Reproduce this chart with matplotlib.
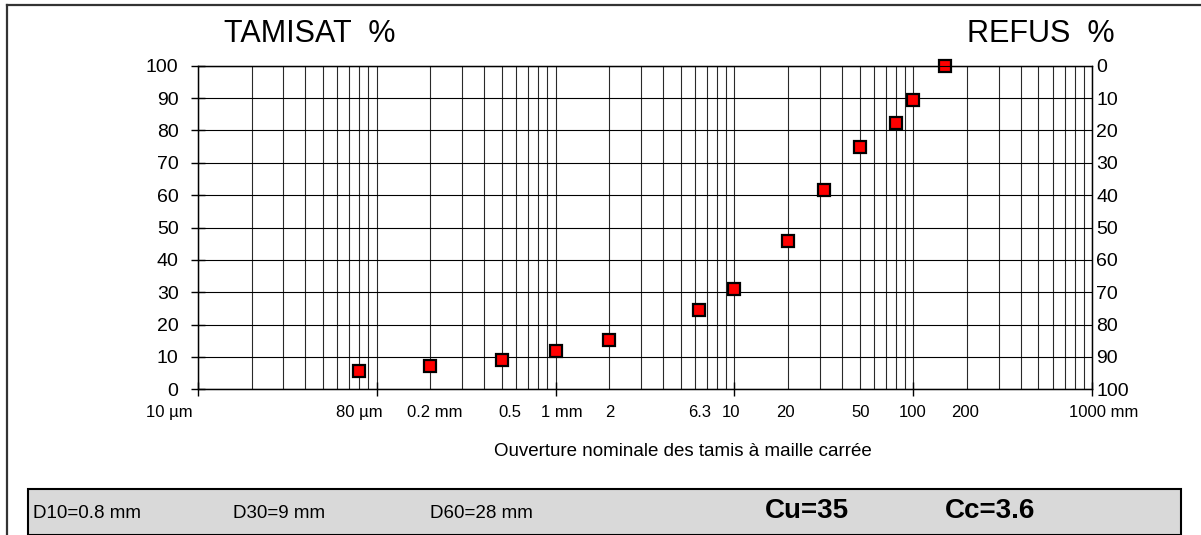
import numpy as np
import matplotlib
matplotlib.use("Agg")
import matplotlib.pyplot as plt
from matplotlib import transforms
from matplotlib.lines import Line2D
from matplotlib.patches import Rectangle
from matplotlib.ticker import LogLocator, NullFormatter

# ── style ─────────────────────────────────────────────────────────────────────
plt.rcParams.update({
    "font.family": "Liberation Sans",
    "font.size": 14,
})

# ── data ─────────────────────────────────────────────────────────────────────
SIEVE_MM = [0.08, 0.2, 0.5, 1, 2, 6.3, 10, 20, 31.5, 50, 80, 100, 150]
PASSING = [5.7, 7.2, 9.2, 11.9, 15.2, 24.6, 31.1, 45.9, 61.5, 74.8, 82.3, 89.3, 100]

Y_TICKS = list(range(0, 101, 10))
DECADES = [0.01, 0.1, 1, 10, 100, 1000]

XLAB_POS = [0.01, 0.08, 0.2, 0.5, 1, 2, 6.3, 10, 20, 50, 100, 200, 1000]
XLAB_TXT = ["10 µm", "80 µm", "0.2 mm", "0.5", "1 mm", "2", "6.3", "10",
            "20", "50", "100", "200", "1000 mm"]
XLAB_NUDGE = [-28, 0, 4, 8, 6, 0, 1, -3, -3, 1, -1, -2, 11]   # pixels

D_TEXT = ["D10=0.8 mm", "D30=9 mm", "D60=28 mm"]
COEF_TEXT = ["Cu=35", "Cc=3.6"]

W, H = 1201, 535


def fx(px):
    return px / W


def fy(py):
    return 1 - py / H


fig = plt.figure(figsize=(W / 100, H / 100), dpi=100)
fig.patch.set_facecolor("white")

# frame lines (top + left only)
fig.add_artist(Line2D([fx(7), 1], [fy(5), fy(5)], color="#333333", lw=1.6))
fig.add_artist(Line2D([fx(7), fx(7)], [fy(5), 0], color="#333333", lw=1.6))

# ── main axes ────────────────────────────────────────────────────────────────
x0, x1, y0, y1 = 197.7, 1092.3, 65.7, 389.3
ax = fig.add_axes([fx(x0), fy(y1), fx(x1 - x0), (y1 - y0) / H])
ax.set_xscale("log")
ax.set_xlim(0.01, 1000)
ax.set_ylim(0, 100)

ax.set_xticks(DECADES)
ax.xaxis.set_major_formatter(NullFormatter())
ax.xaxis.set_minor_locator(LogLocator(base=10, subs=np.arange(2, 10), numticks=30))
ax.xaxis.set_minor_formatter(NullFormatter())
ax.tick_params(axis="x", which="major", direction="inout", length=10, width=1, color="black")
ax.tick_params(axis="x", which="minor", length=0)

ax.set_yticks(Y_TICKS)
ax.tick_params(axis="y", direction="inout", length=9.5, width=1, pad=9, labelsize=14)

ax.grid(True, axis="x", which="both", color="#2a2a2a", lw=0.8)
ax.grid(True, axis="y", which="major", color="black", lw=0.8)
for sp in ax.spines.values():
    sp.set_color("black")
    sp.set_linewidth(1)

ax.plot(SIEVE_MM, PASSING, ls="none", marker="s", ms=8.5,
        mfc="#ff0000", mec="black", mew=1.6, clip_on=False, zorder=5)

# right axis: refus % (reversed)
ax2 = ax.twinx()
ax2.set_ylim(100, 0)
ax2.set_yticks(Y_TICKS)
ax2.tick_params(axis="y", length=0, pad=3, labelsize=14)
ax2.spines["right"].set_color("black")

# x labels placed manually like the original text boxes
for pos, txt, nudge in zip(XLAB_POS, XLAB_TXT, XLAB_NUDGE):
    tr = transforms.offset_copy(ax.get_xaxis_transform(), fig=fig,
                                x=nudge * 72 / 100, y=0, units="points")
    ax.text(pos, -0.071, txt, transform=tr, ha="center", va="center",
            fontsize=12, clip_on=False)

# ── titles and axis caption ─────────────────────────────────────────────────
fig.text(fx(310), fy(34), "TAMISAT  %", fontsize=22, ha="center", va="center")
fig.text(fx(1041), fy(34), "REFUS  %", fontsize=22, ha="center", va="center")
fig.text(fx(683), fy(452), "Ouverture nominale des tamis à maille carrée",
         fontsize=13.5, ha="center", va="center")

# ── results box ──────────────────────────────────────────────────────────────
fig.add_artist(Rectangle((fx(28), 0), fx(1181 - 28), (H - 489) / H,
                         facecolor="#d9d9d9", edgecolor="black", lw=1.5))
for txt, px in zip(D_TEXT, [33, 233, 430]):
    fig.text(fx(px), fy(514), txt, fontsize=13.5, ha="left", va="center")
for txt, px in zip(COEF_TEXT, [765, 945]):
    fig.text(fx(px), fy(511), txt, fontsize=20, fontweight="bold",
             ha="left", va="center")

fig.savefig("out.png", dpi=100)
